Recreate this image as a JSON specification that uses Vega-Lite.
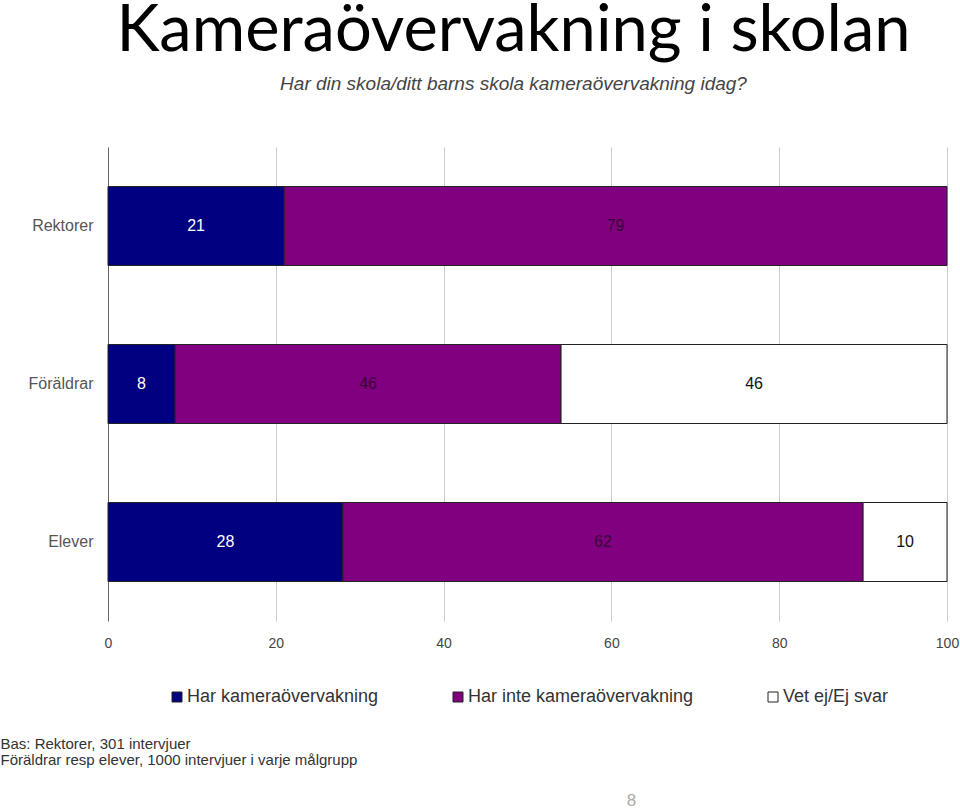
{
  "$schema": "https://vega.github.io/schema/vega-lite/v6.json",
  "width": 839,
  "height": 474,
  "autosize": {"type": "none"},
  "padding": {"left": 108, "top": 147, "right": 13, "bottom": 189},
  "background": "white",
  "title": {
    "text": "Kameraövervakning i skolan",
    "subtitle": "Har din skola/ditt barns skola kameraövervakning idag?",
    "anchor": "middle",
    "dx": -14,
    "font": "Lato",
    "fontSize": 65,
    "fontWeight": "normal",
    "color": "#000000",
    "subtitleFont": "Liberation Sans",
    "subtitleFontSize": 19,
    "subtitleFontStyle": "italic",
    "subtitleColor": "#444444",
    "subtitlePadding": 10,
    "offset": 52
  },
  "data": {
    "values": [
      {"grupp": "Rektorer", "svar": "Har kameraövervakning", "ordning": 1, "andel": 21},
      {"grupp": "Rektorer", "svar": "Har inte kameraövervakning", "ordning": 2, "andel": 79},
      {"grupp": "Föräldrar", "svar": "Har kameraövervakning", "ordning": 1, "andel": 8},
      {"grupp": "Föräldrar", "svar": "Har inte kameraövervakning", "ordning": 2, "andel": 46},
      {"grupp": "Föräldrar", "svar": "Vet ej/Ej svar", "ordning": 3, "andel": 46},
      {"grupp": "Elever", "svar": "Har kameraövervakning", "ordning": 1, "andel": 28},
      {"grupp": "Elever", "svar": "Har inte kameraövervakning", "ordning": 2, "andel": 62},
      {"grupp": "Elever", "svar": "Vet ej/Ej svar", "ordning": 3, "andel": 10}
    ]
  },
  "encoding": {
    "y": {
      "field": "grupp",
      "type": "nominal",
      "sort": ["Rektorer", "Föräldrar", "Elever"],
      "scale": {"paddingInner": 0.5, "paddingOuter": 0.25},
      "axis": {
        "title": "8",
        "titleAngle": 0,
        "titleX": 523,
        "titleY": 653,
        "titleAlign": "center",
        "titleBaseline": "middle",
        "titleColor": "#aaaaaa",
        "titleFontSize": 17,
        "titleFontWeight": "normal",
        "titleFont": "Liberation Sans",
        "domain": true,
        "domainColor": "#666666",
        "domainWidth": 1,
        "ticks": false,
        "labelPadding": 15,
        "labelFontSize": 16,
        "labelColor": "#555555",
        "labelFont": "Liberation Sans"
      }
    }
  },
  "layer": [
    {
      "mark": {"type": "bar", "stroke": "#222222", "strokeWidth": 1},
      "encoding": {
        "x": {
          "field": "andel",
          "type": "quantitative",
          "stack": "zero",
          "scale": {"domain": [0, 100], "nice": false},
          "axis": {
            "values": [0, 20, 40, 60, 80, 100],
            "grid": true,
            "gridColor": "#cccccc",
            "gridWidth": 1,
            "domain": false,
            "ticks": false,
            "labelPadding": 15,
            "labelFontSize": 14,
            "labelColor": "#444444",
            "labelFont": "Liberation Sans",
            "labelFlush": false,
            "title": ["Bas: Rektorer, 301 intervjuer", "Föräldrar resp elever, 1000 intervjuer i varje målgrupp"],
            "titleX": -108,
            "titleY": 115,
            "titleAngle": 0,
            "titleAlign": "left",
            "titleBaseline": "top",
            "titleFont": "Liberation Sans",
            "titleFontSize": 15,
            "titleFontWeight": "normal",
            "titleColor": "#333333",
            "titleLineHeight": 16
          }
        },
        "color": {
          "field": "svar",
          "type": "nominal",
          "scale": {
            "domain": ["Har kameraövervakning", "Har inte kameraövervakning", "Vet ej/Ej svar"],
            "range": ["#000080", "#800080", "#ffffff"]
          },
          "legend": {
            "title": null,
            "orient": "none",
            "legendX": 60,
            "legendY": 541,
            "direction": "horizontal",
            "columns": 3,
            "columnPadding": 70,
            "symbolType": "square",
            "symbolSize": 100,
            "symbolStrokeColor": "#222222",
            "symbolStrokeWidth": 1,
            "symbolOpacity": 1,
            "labelFont": "Liberation Sans",
            "labelFontSize": 18,
            "labelColor": "#333333",
            "labelOffset": 1,
            "labelLimit": 400
          }
        },
        "order": {"field": "ordning", "type": "quantitative"}
      }
    },
    {
      "mark": {"type": "text", "font": "Liberation Sans", "fontSize": 16, "baseline": "middle", "align": "center"},
      "encoding": {
        "x": {"field": "andel", "type": "quantitative", "stack": "zero", "bandPosition": 0.5},
        "text": {"field": "andel", "type": "quantitative"},
        "color": {
          "field": "svar",
          "type": "nominal",
          "scale": {
            "domain": ["Har kameraövervakning", "Har inte kameraövervakning", "Vet ej/Ej svar"],
            "range": ["#ffffff", "#3a003a", "#111111"]
          },
          "legend": null
        },
        "order": {"field": "ordning", "type": "quantitative"}
      }
    }
  ],
  "resolve": {"scale": {"color": "independent"}},
  "config": {
    "view": {"stroke": null},
    "font": "Liberation Sans"
  }
}
